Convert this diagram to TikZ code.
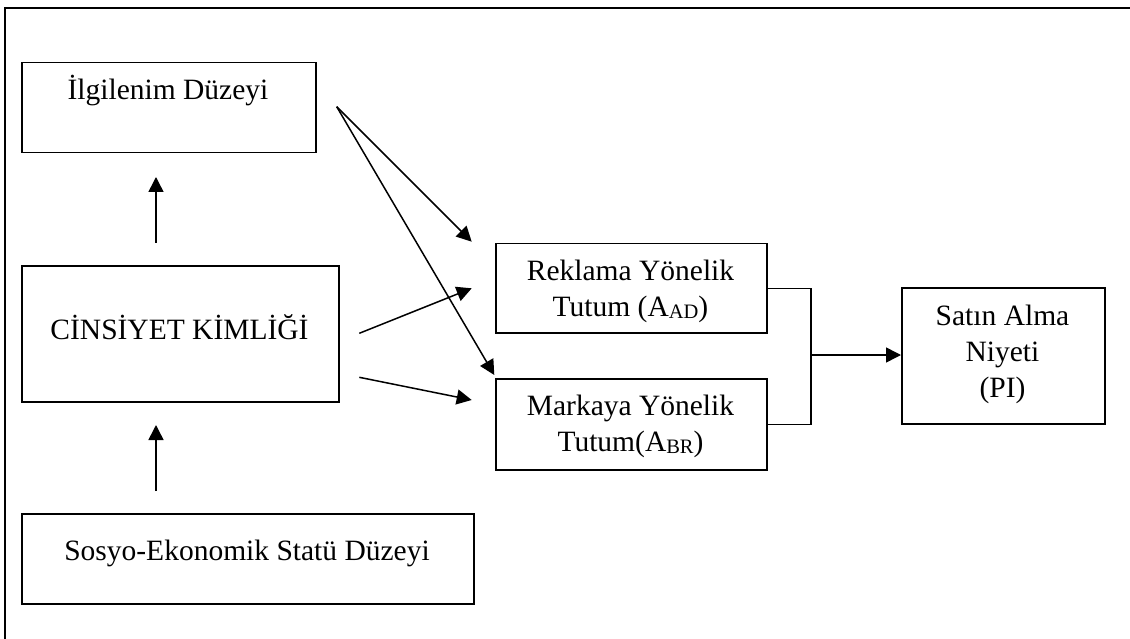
\documentclass[tikz,border=0pt]{standalone}
\usepackage{fontspec}
\setmainfont{Liberation Serif}
\usetikzlibrary{arrows.meta}
\newcommand\mylines[1]{\begin{tabular}[t]{@{}c@{}}#1\end{tabular}}
\newcommand\sbs[1]{\raisebox{-2.5pt}{\fontsize{20.5}{20}\selectfont #1}}
\begin{document}
\begin{tikzpicture}[x=1pt,y=-1pt,
  box/.style={draw, line width=1.5pt, inner sep=0, anchor=north west},
  txt/.style={inner sep=0, anchor=base, font=\fontsize{29.5}{36}\selectfont},
  arr/.style={line width=1.5pt, -{Triangle[length=15pt,width=15pt]}},
  ln/.style={line width=1.5pt}]
\useasboundingbox (0,0) rectangle (1130,639);
% outer frame
\draw[line width=2.8pt] (1140,8) -- (5,8) -- (5,650);
% boxes
\node[box, minimum width=294pt, minimum height=90pt] (ilg) at (21,62) {};
\node[box, minimum width=317pt, minimum height=136pt] (cin) at (21,265) {};
\node[box, minimum width=452pt, minimum height=90pt] (sos) at (21,513) {};
\node[box, minimum width=271pt, minimum height=89pt] (rek) at (495,243) {};
\node[box, minimum width=271pt, minimum height=91pt] (mar) at (495,378) {};
\node[box, minimum width=203pt, minimum height=136pt] (pi) at (901,287) {};
% texts
\node[txt] (ilgT) at (168,100) {İlgilenim Düzeyi};
\node[txt] (cinT) at (179.5,339) {CİNSİYET KİMLİĞİ};
\node[txt] (sosT) at (247,560) {Sosyo-Ekonomik Statü Düzeyi};
\node[txt] (rekT) at (630.5,280) {\mylines{Reklama Yönelik\\Tutum (A\sbs{AD})}};
\node[txt] (marT) at (630.5,415) {\mylines{Markaya Yönelik\\Tutum(A\sbs{BR})}};
\node[txt] (piT) at (1002.5,325) {\mylines{Satın Alma\\Niyeti\\(PI)}};
% connector points
\coordinate (s1) at (336.7,106.7);
\coordinate (t1) at (471.7,241.7);
\coordinate (t2) at (494.3,375);
\coordinate (s3) at (359.3,333.3);
\coordinate (t3) at (471.7,288.3);
\coordinate (s4) at (359.3,377.3);
\coordinate (t4) at (471.7,400);
\coordinate (u1s) at (156,243);
\coordinate (u1t) at (156,177);
\coordinate (u2s) at (156,491);
\coordinate (u2t) at (156,425);
\coordinate (jx) at (811,355);
% arrows
\draw[arr] (u1s) -- (u1t);
\draw[arr] (u2s) -- (u2t);
\draw[arr] (s1) -- (t1);
\draw[arr] (s1) -- (t2);
\draw[arr] (s3) -- (t3);
\draw[arr] (s4) -- (t4);
\draw[ln] (rek.east) -| (jx) |- (mar.east);
\draw[arr] (jx) -- (jx -| pi.west);
\end{tikzpicture}
\end{document}
